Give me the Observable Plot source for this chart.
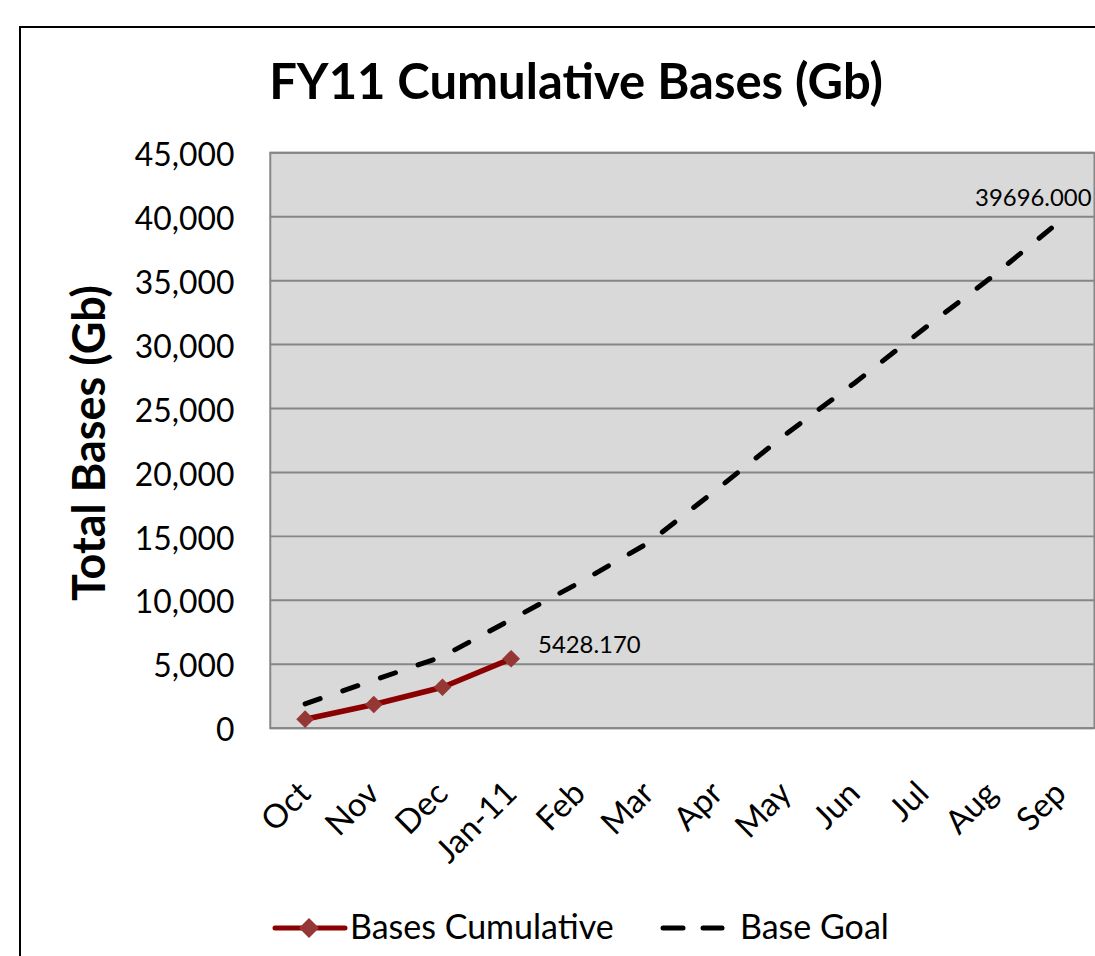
<!DOCTYPE html>
<html><head><meta charset="utf-8">
<script src="https://cdn.jsdelivr.net/npm/d3@7"></script>
<script src="https://cdn.jsdelivr.net/npm/@observablehq/plot@0.6"></script>
<style>
html,body{margin:0;padding:0;background:#fff;overflow:hidden;width:1095px;height:956px;}
#wrap{position:relative;width:1095px;height:956px;font-family:Lato,"Open Sans",sans-serif;color:#000;}
#border{position:absolute;left:19px;top:26px;width:1200px;height:1200px;border:2px solid #000;box-sizing:border-box;}
#chart{position:absolute;left:0;top:0;}
.t{position:absolute;white-space:nowrap;line-height:1.2;}
#title{left:0;width:1152px;top:51px;text-align:center;font-weight:bold;font-size:49px;}
#ylabel{left:88px;top:443px;font-weight:bold;font-size:45px;transform:translate(-50%,-50%) rotate(-90deg);}
.leg{font-size:34px;top:906px;}
.sw{position:absolute;}
</style></head>
<body><div id="wrap">
<div id="border"></div>
<div id="chart"></div>
<div id="title" class="t">FY11 Cumulative Bases (Gb)</div>
<div id="ylabel" class="t">Total Bases (Gb)</div>
<svg class="sw" style="left:270px;top:913px" width="80" height="30">
  <line x1="5" y1="15" x2="75" y2="15" stroke="#8b0000" stroke-width="5" stroke-linecap="round"/>
  <path d="M39,5 L49,15 L39,25 L29,15 Z" fill="#953735"/>
</svg>
<div class="t leg" style="left:350px">Bases Cumulative</div>
<svg class="sw" style="left:655px;top:913px" width="75" height="30">
  <line x1="8" y1="15" x2="28" y2="15" stroke="#000" stroke-width="5" stroke-linecap="round"/>
  <line x1="48" y1="15" x2="67" y2="15" stroke="#000" stroke-width="5" stroke-linecap="round"/>
</svg>
<div class="t leg" style="left:740px">Base Goal</div>
</div>
<script>
const months = ["Oct","Nov","Dec","Jan-11","Feb","Mar","Apr","May","Jun","Jul","Aug","Sep"];
const basesCumulative = [700, 1850, 3200, 5428.170];
const baseGoal = [1900, 3750, 5600, 8500, 11400, 14500, 18700, 23000, 27000, 31200, 35300, 39696.000];
const yTicks = [0, 5000, 10000, 15000, 20000, 25000, 30000, 35000, 40000, 45000];

const actual = basesCumulative.map((v, i) => ({month: months[i], value: v}));
const goal = baseGoal.map((v, i) => ({month: months[i], value: v}));

const chart = Plot.plot({
  width: 1100, height: 956,
  marginLeft: 271, marginRight: 1, marginTop: 153, marginBottom: 225,
  style: {fontFamily: "Lato, 'Open Sans', sans-serif", fontSize: "32px", color: "#000", background: "transparent", overflow: "visible"},
  x: {type: "point", domain: months, padding: 0.5, label: null},
  y: {domain: [0, 45000], label: null},
  marks: [
    Plot.frame({fill: "#d9d9d9"}),
    Plot.ruleY(yTicks, {stroke: "#868686", strokeWidth: 2}),
    Plot.frame({stroke: "#868686", strokeWidth: 2}),
    Plot.axisY({ticks: yTicks, tickFormat: d3.format(","), tickSize: 0, tickPadding: 36, dy: 3, fontSize: 32, label: null}),
    Plot.axisX({tickRotate: -45, tickSize: 0, tickPadding: 60, fontSize: 33, label: null}),
    Plot.line(goal, {x: "month", y: "value", stroke: "#000", strokeWidth: 5, strokeDasharray: "16,24", strokeLinecap: "round"}),
    Plot.line(actual, {x: "month", y: "value", stroke: "#8b0000", strokeWidth: 5.5}),
    Plot.dot(actual, {x: "month", y: "value", symbol: "diamond2", r: 8, fill: "#953735", stroke: null}),
    Plot.text([actual[actual.length - 1]], {x: "month", y: "value", text: d => d.value.toFixed(3), textAnchor: "start", dx: 27, dy: -13, fontSize: 24, fill: "#000"}),
    Plot.text([goal[goal.length - 1]], {x: "month", y: "value", text: d => d.value.toFixed(3), textAnchor: "end", dx: 31, dy: -22, fontSize: 24, fill: "#000"})
  ]
});
document.getElementById("chart").appendChild(chart);
</script>
</body></html>
